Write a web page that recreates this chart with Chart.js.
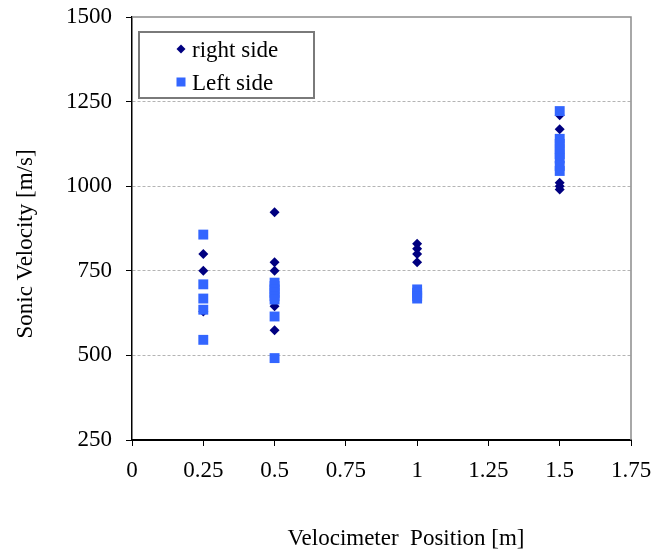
<!DOCTYPE html>
<html>
<head>
<meta charset="utf-8">
<script src="https://cdn.jsdelivr.net/npm/chart.js@4.4.1/dist/chart.umd.min.js"></script>
<style>
  html, body { margin: 0; padding: 0; background: #fff; }
  #wrap { width: 652px; height: 554px; }
</style>
</head>
<body>
<div id="wrap"><canvas id="velocityChart" width="652" height="554"></canvas></div>
<script>
// velocimeter position [m] / sonic velocity [m/s]
const rightSidePos = [0.25, 0.25, 0.25, 0.5, 0.5, 0.5, 0.5, 0.5, 1, 1, 1, 1, 1.5, 1.5, 1.5, 1.5, 1.5];
const rightSideVel = [800, 750, 630, 923, 775, 750, 645, 574, 830, 815, 800, 775, 1210, 1168, 1010, 1000, 990];
const leftSidePos = [0.25, 0.25, 0.25, 0.25, 0.25, 0.5, 0.5, 0.5, 0.5, 0.5, 0.5, 0.5, 0.5, 1, 1, 1, 1, 1.5, 1.5, 1.5, 1.5, 1.5, 1.5, 1.5, 1.5];
const leftSideVel = [857, 710, 668, 635, 546, 715, 705, 695, 685, 675, 665, 615, 492, 695, 685, 675, 668, 1222, 1140, 1125, 1110, 1095, 1082, 1060, 1045];
const xTickLabels = ['0', '0.25', '0.5', '0.75', '1', '1.25', '1.5', '1.75'];
const yTickLabels = ['250', '500', '750', '1000', '1250', '1500'];
const seriesNames = ['right side', 'Left side'];

const FONT = "'Liberation Serif', 'Times New Roman', serif";
const RIGHT_COLOR = '#000080';
const LEFT_COLOR = '#3366FF';

const toPoints = (xs, ys) => xs.map((x, i) => ({ x: x, y: ys[i] }));

// gray frame on top/right, legend box and axis titles
const decorPlugin = {
    id: 'decor',
    beforeDatasetsDraw(chart) {
        const { ctx, chartArea: a } = chart;
        ctx.save();
        ctx.strokeStyle = '#8c8c8c';
        ctx.lineWidth = 1.5;
        ctx.beginPath();
        ctx.moveTo(a.left, a.top);
        ctx.lineTo(a.right, a.top);
        ctx.lineTo(a.right, a.bottom);
        ctx.stroke();
        ctx.restore();
    },
    afterDraw(chart) {
        const { ctx } = chart;
        ctx.save();
        // legend
        ctx.fillStyle = '#fff';
        ctx.fillRect(139, 32, 175, 66);
        ctx.strokeStyle = '#7a7a7a';
        ctx.lineWidth = 2;
        ctx.strokeRect(139, 32, 175, 66);
        ctx.fillStyle = RIGHT_COLOR;
        ctx.beginPath();
        ctx.moveTo(181, 44.5); ctx.lineTo(185.5, 49); ctx.lineTo(181, 53.5); ctx.lineTo(176.5, 49);
        ctx.closePath(); ctx.fill();
        ctx.fillStyle = LEFT_COLOR;
        ctx.fillRect(176.5, 77.5, 9, 9);
        ctx.fillStyle = '#000';
        ctx.font = '23px ' + FONT;
        ctx.textBaseline = 'alphabetic';
        ctx.textAlign = 'left';
        ctx.fillText(seriesNames[0], 192, 57);
        ctx.fillText(seriesNames[1], 192, 90);
        // axis titles
        ctx.textAlign = 'center';
        ctx.textBaseline = 'middle';
        ctx.fillText('Velocimeter  Position [m]', 406, 539);
        ctx.translate(26, 244);
        ctx.rotate(-Math.PI / 2);
        ctx.fillText('Sonic Velocity [m/s]', 0, 0);
        ctx.restore();
    }
};

const ctx = document.getElementById('velocityChart').getContext('2d');
new Chart(ctx, {
    type: 'scatter',
    data: {
        datasets: [{
            label: seriesNames[0],
            data: toPoints(rightSidePos, rightSideVel),
            pointStyle: 'rectRot',
            pointRadius: 5,
            pointHoverRadius: 5,
            backgroundColor: RIGHT_COLOR,
            borderWidth: 0,
            order: 2
        }, {
            label: seriesNames[1],
            data: toPoints(leftSidePos, leftSideVel),
            pointStyle: 'rect',
            pointRadius: 7,
            pointHoverRadius: 7,
            backgroundColor: LEFT_COLOR,
            borderWidth: 0,
            order: 1
        }]
    },
    options: {
        responsive: false,
        animation: false,
        layout: { padding: { top: 17, right: 21, left: 0, bottom: 0 } },
        plugins: { legend: { display: false }, tooltip: { enabled: false } },
        scales: {
            x: {
                type: 'linear', min: 0, max: 1.75,
                afterFit: s => { s.height = 114; s.paddingLeft = 0; s.paddingRight = 0; },
                afterBuildTicks: s => { s.ticks = xTickLabels.map(t => ({ value: parseFloat(t) })); },
                ticks: {
                    callback: (v, i) => xTickLabels[i],
                    color: '#000', font: { family: FONT, size: 23 }, padding: 11, maxRotation: 0
                },
                grid: { drawOnChartArea: false, tickLength: 6, tickColor: '#000', tickWidth: 1 },
                border: { color: '#000', width: 2 }
            },
            y: {
                type: 'linear', min: 250, max: 1500,
                afterFit: s => { s.width = 132; s.paddingTop = 0; s.paddingBottom = 0; },
                afterBuildTicks: s => { s.ticks = yTickLabels.map(t => ({ value: parseFloat(t) })); },
                ticks: {
                    callback: (v, i) => yTickLabels[i],
                    color: '#000', font: { family: FONT, size: 23 }, padding: 14
                },
                grid: {
                    color: c => (c.tick && (c.tick.value === 250 || c.tick.value === 1500)) ? 'rgba(0,0,0,0)' : '#b4b4b4',
                    lineWidth: 1, tickLength: 6, tickColor: '#000', tickWidth: 1
                },
                border: { color: '#000', width: 1.5, dash: [3, 2] }
            }
        }
    },
    plugins: [decorPlugin]
});
</script>
</body>
</html>
